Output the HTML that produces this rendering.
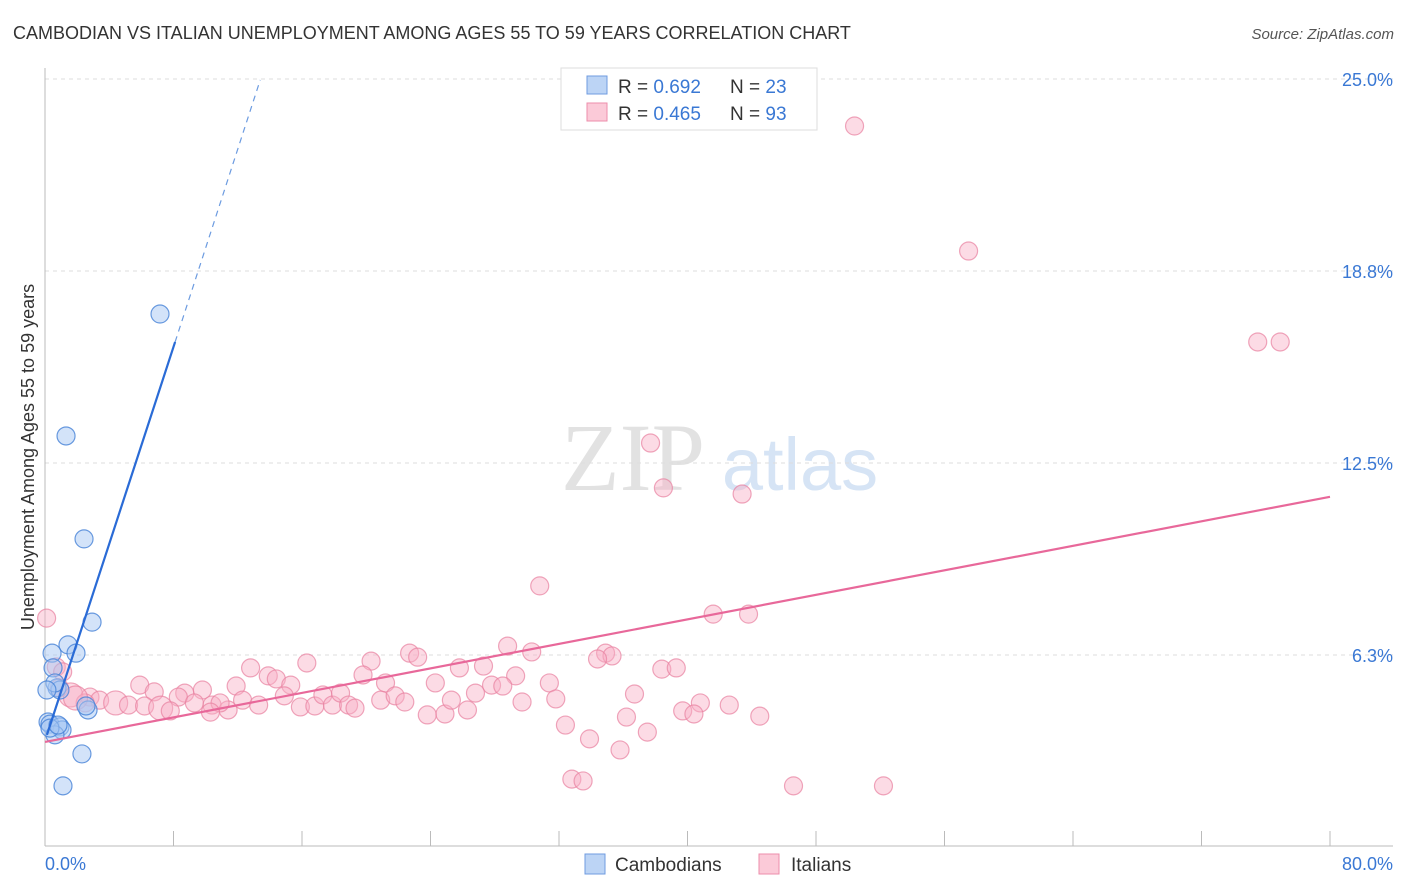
<!DOCTYPE html>
<html><head><meta charset="utf-8">
<style>
body{margin:0;background:#fff;font-family:"Liberation Sans",sans-serif;}
#wrap{position:relative;width:1406px;height:892px;overflow:hidden;}
</style></head>
<body>
<div id="wrap">
<svg id="chart" width="1406" height="892" xmlns="http://www.w3.org/2000/svg">
<text x="13" y="39" font-size="18" fill="#333">CAMBODIAN VS ITALIAN UNEMPLOYMENT AMONG AGES 55 TO 59 YEARS CORRELATION CHART</text>
<text x="1394" y="39" font-size="15" fill="#555" font-style="italic" text-anchor="end">Source: ZipAtlas.com</text>
<g>
<text x="633" y="490" font-size="96" fill="#e2e2e2" font-family="Liberation Serif,serif" text-anchor="middle">ZIP</text>
<text x="800" y="490" font-size="74" fill="#d6e4f5" text-anchor="middle">atlas</text>
</g>
<g id="grid"></g>
<g id="axes"></g>
<g id="pts"></g>
<g id="lines"></g>
<text transform="translate(34,457) rotate(-90)" font-size="18" fill="#333" text-anchor="middle">Unemployment Among Ages 55 to 59 years</text>
<g>
<rect x="561" y="68" width="256" height="62" fill="#fff" stroke="#ddd"/>
<rect x="587" y="76" width="20" height="18" fill="#bcd4f5" stroke="#6f9be0"/>
<rect x="587" y="103" width="20" height="18" fill="#fbcad8" stroke="#ec8eab"/>
<text x="618" y="93" font-size="19" fill="#333">R = <tspan fill="#3a78d4">0.692</tspan></text>
<text x="730" y="93" font-size="19" fill="#333">N = <tspan fill="#3a78d4">23</tspan></text>
<text x="618" y="120" font-size="19" fill="#333">R = <tspan fill="#3a78d4">0.465</tspan></text>
<text x="730" y="120" font-size="19" fill="#333">N = <tspan fill="#3a78d4">93</tspan></text>
</g>
<g>
<rect x="585" y="854" width="20" height="20" fill="#bcd4f5" stroke="#6f9be0"/>
<text x="615" y="871" font-size="19" fill="#333">Cambodians</text>
<rect x="759" y="854" width="20" height="20" fill="#fbcad8" stroke="#ec8eab"/>
<text x="791" y="871" font-size="19" fill="#333">Italians</text>
</g>
</svg>
</div>
<script>
const yTicks=[6.25,12.5,18.75,25];
const yTickLabels=["6.3%","12.5%","18.8%","25.0%"];
const xTickVals=[0,8,16,24,32,40,48,56,64,72,80];
const camX=[7.16,1.31,2.43,2.93,1.43,1.93,0.44,0.50,0.75,0.93,2.68,2.55,0.19,0.31,0.93,1.06,0.62,2.30,1.12,0.31,0.62,0.12,0.81];
const camY=[17.35,13.38,10.03,7.32,6.58,6.31,6.31,5.83,5.18,5.11,4.46,4.59,4.07,4.00,3.91,3.81,3.65,3.03,1.99,3.87,5.34,5.11,3.97];
const itaX=[50.4,57.5,75.5,76.9,37.7,38.5,43.4,30.8,41.6,43.8,0.1,28.8,30.3,22.7,23.2,20.3,16.3,12.8,25.8,27.3,34.9,35.3,34.4,38.4,39.3,0.7,1.1,13.9,14.4,15.3,11.9,31.4,29.3,27.8,21.2,24.3,19.8,5.9,6.8,8.7,9.8,0.9,1.6,2.8,3.4,4.4,5.2,6.2,7.2,8.3,9.3,10.4,11.4,12.3,13.3,14.9,15.9,16.8,17.3,17.9,18.4,18.9,19.3,20.9,21.8,22.4,23.8,24.9,25.3,26.3,26.8,28.5,29.7,31.8,36.7,40.8,39.7,40.4,42.6,44.5,36.2,32.4,33.9,37.5,35.8,32.8,33.5,46.6,52.2,7.8,10.9,10.3,2.5,1.9];
const itaY=[23.47,19.40,16.44,16.44,13.15,11.69,11.49,8.50,7.58,7.58,7.45,6.54,6.35,6.31,6.18,6.05,5.99,5.83,5.83,5.89,6.31,6.22,6.12,5.79,5.83,5.86,5.70,5.57,5.47,5.27,5.24,5.34,5.57,5.27,5.34,5.34,5.60,5.27,5.05,5.01,5.11,5.18,4.95,4.88,4.78,4.69,4.62,4.59,4.52,4.88,4.69,4.62,4.46,4.78,4.62,4.92,4.56,4.59,4.95,4.62,5.01,4.62,4.52,4.78,4.92,4.72,4.30,4.33,4.78,4.46,5.01,5.24,4.72,4.82,4.98,4.69,4.43,4.33,4.62,4.26,4.23,3.97,3.52,3.74,3.16,2.21,2.15,1.99,1.99,4.43,4.69,4.39,4.69,4.85];
const camLine=[[0.12,3.65],[8.1,16.44]];
const camDash=[[8.1,16.44],[13.4,24.97]];
const itaLine=[[0,3.42],[80,11.4]];
const X=v=>45+v/80*1285;
const Y=v=>847-v/25*768;
const NS="http://www.w3.org/2000/svg";
function mk(tag,attrs,parent){const e=document.createElementNS(NS,tag);for(const k in attrs)e.setAttribute(k,attrs[k]);parent.appendChild(e);return e;}
const grid=document.getElementById('grid'),axes=document.getElementById('axes'),pts=document.getElementById('pts'),lines=document.getElementById('lines');
yTicks.forEach((t,i)=>{
  const g=mk('line',{x1:45,x2:1393,y1:Y(t),y2:Y(t),stroke:'#ddd','stroke-dasharray':'4,4'},grid);
  
  
  const tx=mk('text',{x:1393,y:Y(t)+7,'font-size':18,fill:'#3a78d4','text-anchor':'end'},axes);
  tx.textContent=yTickLabels[i];
  
  
});
const yAx=mk('line',{x1:45,x2:45,y1:68,y2:846,stroke:'#bbb'},axes);


const xAx=mk('line',{x1:45,x2:1393,y1:846,y2:846,stroke:'#bbb'},axes);


xTickVals.forEach(v=>{
  const t=mk('line',{x1:X(v),x2:X(v),y1:831,y2:846,stroke:'#bbb'},axes);
  
  
});
const xl0=mk('text',{x:45,y:870,'font-size':18,fill:'#3a78d4'},axes);xl0.textContent='0.0%';


const xl1=mk('text',{x:1393,y:870,'font-size':18,fill:'#3a78d4','text-anchor':'end'},axes);xl1.textContent='80.0%';


itaX.forEach((x,i)=>{
  const big=(x<8&&itaY[i]>4.5&&itaY[i]<5.5&&i%3==0);
  const c=mk('circle',{cx:X(x),cy:Y(itaY[i]),r:big?12:9,fill:'rgba(248,176,198,0.45)',stroke:'rgba(232,128,160,0.7)','stroke-width':1.2},pts);
  
  
});
camX.forEach((x,i)=>{
  const c=mk('circle',{cx:X(x),cy:Y(camY[i]),r:9,fill:'rgba(168,200,244,0.5)',stroke:'rgba(70,130,215,0.8)','stroke-width':1.2},pts);
  
  
});
const l1=mk('line',{x1:X(camLine[0][0]),y1:Y(camLine[0][1]),x2:X(camLine[1][0]),y2:Y(camLine[1][1]),stroke:'#2a6bd6','stroke-width':2.2},lines);


const l2=mk('line',{x1:X(camDash[0][0]),y1:Y(camDash[0][1]),x2:X(camDash[1][0]),y2:Y(camDash[1][1]),stroke:'#6c9be0','stroke-width':1.2,'stroke-dasharray':'6,5'},lines);


const l3=mk('line',{x1:X(itaLine[0][0]),y1:Y(itaLine[0][1]),x2:X(itaLine[1][0]),y2:Y(itaLine[1][1]),stroke:'#e8689a','stroke-width':2.2},lines);


</script>
</body></html>
